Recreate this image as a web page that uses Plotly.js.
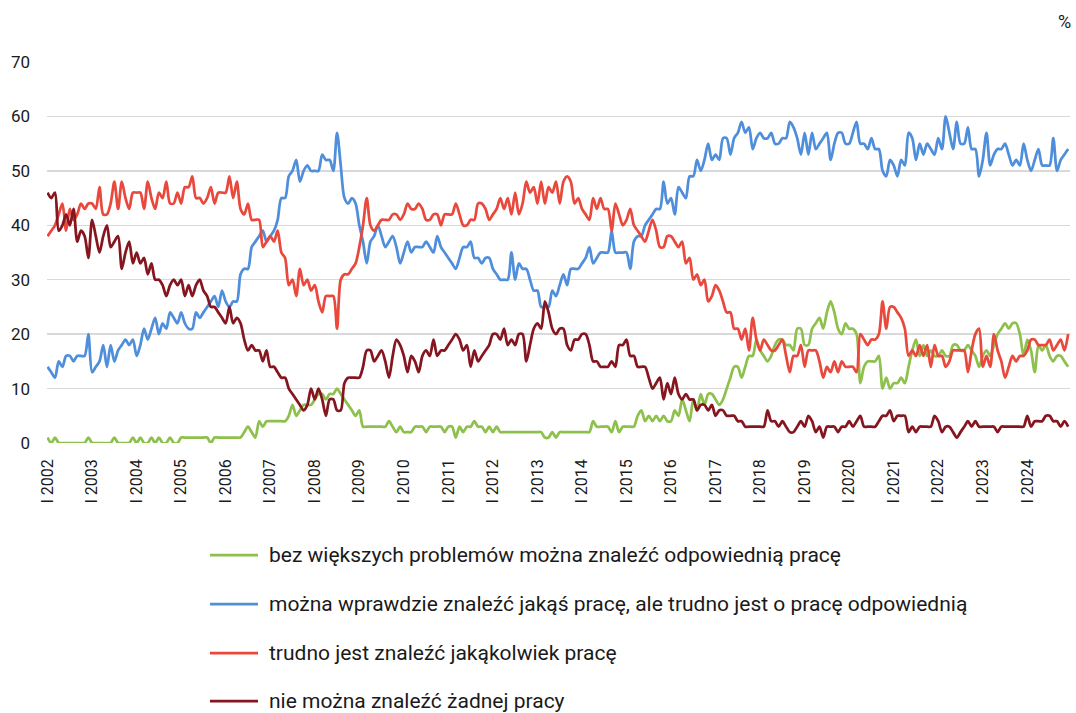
<!DOCTYPE html>
<html>
<head>
<meta charset="utf-8">
<script src="https://cdn.plot.ly/plotly-3.0.1.min.js"></script>
<style>
html,body{margin:0;padding:0;background:#fff;}
#chart{width:1076px;height:713px;}
</style>
</head>
<body>
<div id="chart"></div>
<script>
// Years shown on the axis (one tick at January of each year)
const years = [2002,2003,2004,2005,2006,2007,2008,2009,2010,2011,2012,2013,2014,2015,2016,2017,2018,2019,2020,2021,2022,2023,2024];

const seriesNames = [
  "bez większych problemów można znaleźć odpowiednią pracę",
  "można wprawdzie znaleźć jakąś pracę, ale trudno jest o pracę odpowiednią",
  "trudno jest znaleźć jakąkolwiek pracę",
  "nie można znaleźć żadnej pracy"
];
const seriesColors = ["#8dc04c", "#4f8edb", "#e9493c", "#851620"];

// Monthly values (%), Jan 2002 – Dec 2024, one row per year
const bezProblemow = [
  1,0,1,0,0,0,0,0,0,0,0,1,
  0,0,0,0,0,0,1,0,0,0,0,1,
  0,1,0,0,1,0,1,0,0,1,0,0,
  1,1,1,1,1,1,1,1,0,1,1,1,
  1,1,1,1,1,2,3,2,1,4,3,4,
  4,4,4,4,4,5,7,5,6,7,7,7,
  8,9,9,8,9,9,10,9,8,7,6,5,
  6,3,3,3,3,3,3,3,4,3,2,3,
  2,2,2,3,3,3,2,3,3,3,3,2,
  3,3,1,3,2,3,3,4,3,3,2,3,
  2,3,2,2,2,2,2,2,2,2,2,2,
  2,2,1,1,2,1,2,2,2,2,2,2,
  2,2,2,4,3,3,3,3,2,4,2,3,
  3,3,3,5,6,4,5,4,5,4,5,4,
  4,6,5,8,6,4,8,6,9,7,9,9,
  8,7,8,10,12,14,14,12,14,16,16,19,
  17,16,15,16,18,19,19,18,18,17,21,21,
  18,18,21,22,23,21,24,26,24,21,20,22,
  21,21,20,11,14,15,15,15,16,10,12,10,
  11,11,12,11,14,17,19,16,18,16,17,16,
  16,17,16,16,18,18,17,17,18,17,16,14,
  16,17,16,18,20,21,22,21,22,22,20,16,
  19,17,13,18,17,18,16,15,16,16,15,14
];
const jakasPrace = [
  14,13,12,15,14,16,16,15,16,16,16,20,
  13,14,15,18,14,18,15,17,18,19,18,19,
  16,18,21,19,21,23,20,22,21,24,23,22,
  24,22,21,21,24,23,24,25,26,27,25,28,
  26,25,26,26,31,32,32,36,37,38,39,37,
  38,39,41,45,45,49,50,52,48,50,51,50,
  50,50,53,52,52,50,57,51,45,44,45,44,
  40,37,33,37,38,40,38,36,37,38,36,33,
  35,37,35,36,36,36,37,36,35,38,36,35,
  34,33,32,34,36,36,37,34,34,33,34,34,
  32,31,30,30,30,35,30,33,32,32,30,28,
  28,25,25,25,28,27,29,31,29,32,32,32,
  33,34,36,33,34,35,35,35,39,35,35,35,
  35,32,37,38,38,40,41,42,43,43,48,44,
  45,42,47,46,45,49,49,52,50,52,55,52,
  53,52,56,56,53,56,57,59,57,58,54,56,
  57,56,56,57,55,55,56,56,59,58,56,53,
  57,53,57,54,55,56,57,52,55,57,57,55,
  55,57,59,55,55,54,56,54,54,50,49,52,
  51,49,52,51,57,56,52,55,53,55,54,53,
  56,54,60,57,54,59,55,55,58,54,54,49,
  52,57,51,53,54,54,55,53,51,52,51,55,
  52,50,52,54,51,51,51,56,50,52,53,54
];
const trudnoJakakolwiek = [
  38,39,40,42,44,39,43,41,42,44,43,44,
  44,43,47,42,42,44,48,43,48,45,43,46,
  46,46,43,48,45,43,46,45,48,44,44,46,
  44,47,47,49,45,45,44,45,47,44,46,46,
  46,49,45,48,43,42,44,41,41,41,36,37,
  38,37,39,35,34,29,30,27,32,29,30,28,
  29,26,24,27,27,27,21,30,31,31,32,33,
  36,40,45,40,39,40,41,41,41,42,42,41,
  42,44,43,43,44,43,41,41,42,42,40,42,
  42,42,44,42,40,40,41,41,44,44,43,41,
  42,43,45,43,45,42,46,42,44,48,46,47,
  44,48,44,47,46,48,44,48,49,48,44,45,
  43,42,41,45,43,45,43,43,39,44,42,40,
  41,43,40,39,38,37,39,41,39,36,36,38,
  38,37,36,37,33,34,30,31,29,30,26,27,
  29,28,26,24,24,21,21,19,21,17,23,19,
  17,19,18,17,17,18,19,16,13,16,16,18,
  14,17,17,17,15,12,14,13,15,13,15,14,
  14,14,13,20,19,18,19,19,20,26,21,25,
  25,24,23,21,16,17,16,18,16,18,14,18,
  16,16,14,15,17,17,17,17,13,17,20,21,
  14,16,14,20,17,15,12,14,16,15,16,16,
  17,19,19,18,18,18,19,17,18,19,17,20
];
const zadnejPracy = [
  46,45,46,39,40,42,40,43,37,39,38,34,
  41,38,35,38,40,36,37,38,32,35,37,33,
  35,33,34,31,33,30,30,29,27,29,30,29,
  30,27,29,27,29,30,28,27,25,25,24,23,
  22,25,22,23,22,19,17,18,17,17,15,17,
  14,14,13,12,12,10,9,8,7,6,7,10,
  8,10,8,5,8,8,6,6,11,12,12,12,
  12,14,17,17,15,16,17,15,12,16,19,18,
  16,13,16,15,13,16,17,16,19,16,17,17,
  18,19,20,19,17,18,14,17,15,16,17,18,
  20,20,19,21,18,19,18,20,20,15,18,21,
  22,21,26,24,21,20,21,21,18,17,19,19,
  20,20,18,15,15,14,14,14,15,14,18,18,
  19,16,16,14,14,14,12,10,11,12,8,11,
  9,12,9,8,9,8,8,6,7,7,6,7,
  5,6,6,5,5,5,4,4,3,3,3,3,
  3,3,6,4,4,3,4,3,2,2,3,4,
  3,5,4,2,3,1,3,3,3,2,3,3,
  4,3,4,5,3,3,3,3,4,5,5,6,
  4,5,5,5,2,3,2,3,3,3,3,5,
  4,2,3,3,2,1,2,3,4,3,4,3,
  3,3,3,3,2,3,3,3,3,3,3,3,
  5,3,4,4,4,5,5,4,4,3,4,3
];

const allSeries = [bezProblemow, jakasPrace, trudnoJakakolwiek, zadnejPracy];
const x = bezProblemow.map((_, i) => i);
const tickvals = years.map((_, i) => i * 12);
const ticktext = years.map(y => "I " + y);

const FONT = "Roboto, 'Noto Sans', Arial, sans-serif";

const traces = allSeries.map((vals, k) => ({
  type: "scatter",
  mode: "lines",
  x: x,
  y: vals,
  name: seriesNames[k],
  line: {color: seriesColors[k], width: 2.75, shape: "spline", smoothing: 0.8},
  showlegend: false,
  hoverinfo: "y"
}));

// legend drawn as shapes + annotations below the plot (paper coordinates)
const L = 47, R = 6, T = 62, B = 270, H = 713, W = 1076;
const plotH = H - T - B, plotW = W - L - R;
const px2x = p => (p - L) / plotW;
const py2y = p => (H - B - p) / plotH;
const legendRows = [555, 604, 653, 701];

const shapes = [];
const annotations = [];
seriesNames.forEach((name, k) => {
  const yy = py2y(legendRows[k]);
  shapes.push({type: "line", xref: "paper", yref: "paper",
    x0: px2x(210), x1: px2x(258), y0: yy, y1: yy,
    line: {color: seriesColors[k], width: 2.75}});
  annotations.push({xref: "paper", yref: "paper", x: px2x(267), y: yy,
    xanchor: "left", yanchor: "middle", showarrow: false, text: name,
    font: {family: FONT, size: 21, color: "#1a1a1a"}});
});
annotations.push({xref: "paper", yref: "paper", x: px2x(1073), y: py2y(22),
  xanchor: "right", yanchor: "middle", showarrow: false, text: "%",
  font: {family: FONT, size: 18, color: "#1a1a1a"}});

const layout = {
  width: W, height: H,
  margin: {l: L, r: R, t: T, b: B, pad: 0},
  paper_bgcolor: "#ffffff",
  plot_bgcolor: "#ffffff",
  font: {family: FONT, size: 17, color: "#1a1a1a"},
  xaxis: {
    range: [-0.15, 275.5],
    tickmode: "array", tickvals: tickvals, ticktext: ticktext,
    tickangle: -90, showgrid: false, zeroline: false, showline: false,
    ticks: "", ticklabelstandoff: 12,
    tickfont: {family: FONT, size: 16, color: "#1a1a1a"}
  },
  yaxis: {
    range: [0, 70], tickvals: [0,10,20,30,40,50,60,70],
    showgrid: true, gridcolor: "#d9d9d9", gridwidth: 1.3,
    zeroline: false, showline: false, ticks: "", ticklabelstandoff: 16,
    tickfont: {family: FONT, size: 17, color: "#1a1a1a"}
  },
  shapes: shapes,
  annotations: annotations
};

Plotly.newPlot("chart", traces, layout, {displayModeBar: false, staticPlot: true});
</script>
</body>
</html>
